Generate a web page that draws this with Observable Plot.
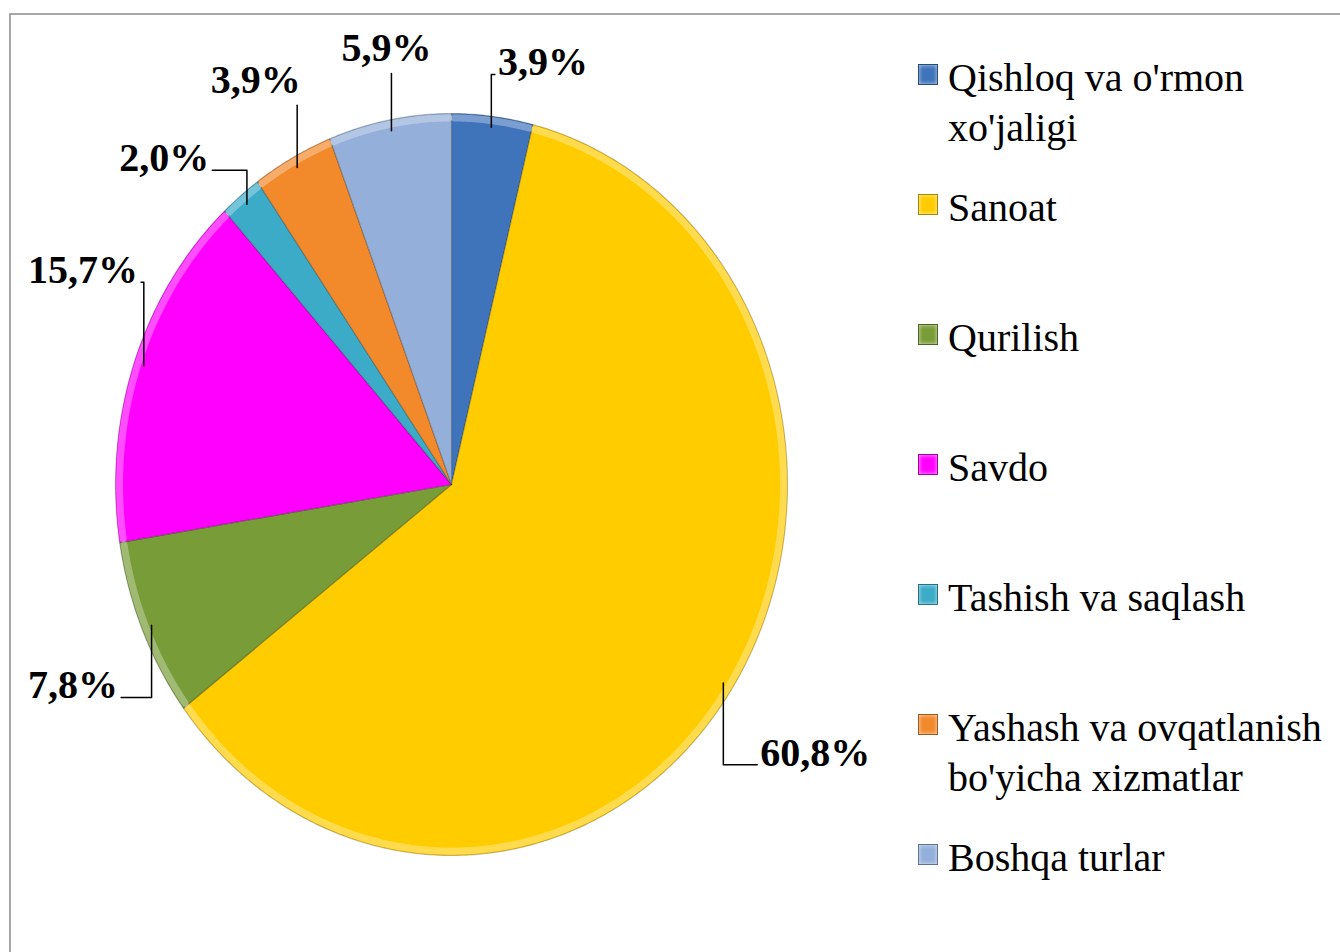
<!DOCTYPE html>
<html><head><meta charset="utf-8">
<script src="https://cdn.jsdelivr.net/npm/d3@7"></script>
<script src="https://cdn.jsdelivr.net/npm/@observablehq/plot@0.6"></script>
<style>
html,body{margin:0;padding:0;background:#fff;overflow:hidden;width:1340px;height:952px}
#frame{position:absolute;left:9px;top:13px;width:1400px;height:1000px;border:2px solid #a6a6a6;box-sizing:border-box}
#chart{position:absolute;left:0;top:0}
#legend{position:absolute;left:918px;top:53px;font-family:'Liberation Serif',serif;font-size:40px;line-height:50px;color:#000}
.item{position:absolute;left:0;display:flex;align-items:flex-start;white-space:pre;font-family:'Liberation Serif',serif}
.sw{width:20px;height:21px;margin-top:11px;margin-right:10px;box-sizing:border-box;border:1px solid rgba(0,0,0,0.35);box-shadow:inset 0 0 4px rgba(255,255,255,0.7)}
</style></head><body>
<div id="frame"></div><div id="chart"></div><div id="legend"></div>
<script>
// ---- data ----
const categories = ["Qishloq va o'rmon xo'jaligi", "Sanoat", "Qurilish", "Savdo", "Tashish va saqlash", "Yashash va ovqatlanish bo'yicha xizmatlar", "Boshqa turlar"];
const legendText = ["Qishloq va o'rmon\nxo'jaligi", "Sanoat", "Qurilish", "Savdo", "Tashish va saqlash", "Yashash va ovqatlanish\nbo'yicha xizmatlar", "Boshqa turlar"];
const shares = [3.9, 60.8, 7.8, 15.7, 2.0, 3.9, 5.9];
const shareLabels = ["3,9%", "60,8%", "7,8%", "15,7%", "2,0%", "3,9%", "5,9%"];
const colors = ["#3f74ba", "#ffcc00", "#789c38", "#ff00ff", "#3cabc8", "#f28a2c", "#93afda"];
// manual label nudges in px (Excel-style hand-placed labels)
const labelNudge = [[45,-6],[47,37],[-29,37],[-10,-76],[-49,0],[-16,-35],[5,-24]];

// ---- layout ----
const W = 1340, H = 952;
const xOpt = {domain: [-1, 1], range: [115, 787]};
const yOpt = {domain: [-1, 1], range: [855, 113]};
const xs = Plot.scale({x: xOpt});
const ys = Plot.scale({y: yOpt});

const total = d3.sum(shares);
let acc = 0;
const slices = shares.map((v, i) => {
  const a0 = acc / total * 2 * Math.PI; acc += v;
  const a1 = acc / total * 2 * Math.PI;
  return {i, a0, a1, mid: (a0 + a1) / 2};
});
const pts = [], rim = [];
slices.forEach(s => {
  pts.push({k: s.i, x: 0, y: 0, c: colors[s.i]});
  const n = Math.max(2, Math.ceil((s.a1 - s.a0) / (Math.PI / 360)));
  for (let j = 0; j <= n; j++) {
    const a = s.a0 + (s.a1 - s.a0) * j / n;
    pts.push({k: s.i, x: Math.sin(a), y: Math.cos(a), c: colors[s.i]});
    if (j > 0 && j < n) rim.push({k: s.i, x: 0.988 * Math.sin(a), y: 0.988 * Math.cos(a)});
  }
  pts.push({k: s.i, x: 0, y: 0, c: colors[s.i]});
});

const ctx = document.createElement("canvas").getContext("2d");
ctx.font = "bold 40px 'Liberation Serif'";
const labelData = [], leaderPts = [];
slices.forEach(s => {
  const px = xs.apply(1.13 * Math.sin(s.mid)) + labelNudge[s.i][0];
  const py = ys.apply(1.13 * Math.cos(s.mid)) + labelNudge[s.i][1];
  const ax = xs.apply(0.97 * Math.sin(s.mid)), ay = ys.apply(0.97 * Math.cos(s.mid));
  const w = ctx.measureText(shareLabels[s.i]).width;
  let ex, ey;
  if (ax < px - w / 2 - 2) { ex = px - w / 2 - 3; ey = py + 12; }
  else if (ax > px + w / 2 + 2) { ex = px + w / 2 + 3; ey = py + 12; }
  else { ex = ax; ey = ay < py ? py - 25 : py + 25; }
  labelData.push({x: xs.invert(px), y: ys.invert(py), t: shareLabels[s.i]});
  [[ax, ay], [ax, ey], [ex, ey]].forEach(([u, v]) => leaderPts.push({k: s.i, x: xs.invert(u), y: ys.invert(v)}));
});

const chart = Plot.plot({
  width: W, height: H, margin: 0,
  x: {...xOpt, axis: null},
  y: {...yOpt, axis: null},
  color: {type: "identity"},
  style: {background: "transparent"},
  marks: [
    Plot.line(pts, {x: "x", y: "y", z: "k", fill: "c", stroke: "rgba(0,0,0,0.22)", strokeWidth: 1.2}),
    Plot.line(rim, {x: "x", y: "y", z: "k", stroke: "#fff", strokeOpacity: 0.3, strokeWidth: 7}),
    Plot.line(leaderPts, {x: "x", y: "y", z: "k", stroke: "#000", strokeWidth: 1.5}),
    Plot.text(labelData, {x: "x", y: "y", text: "t", fontSize: 40, fontWeight: "bold", fontFamily: "'Liberation Serif', serif", fill: "#000", textAnchor: "middle", lineAnchor: "middle"})
  ]
});
document.getElementById("chart").appendChild(chart);

const legend = document.getElementById("legend");
legendText.forEach((t, i) => {
  const item = document.createElement("div");
  item.className = "item";
  item.style.top = (i * 130) + "px";
  const sw = document.createElement("div");
  sw.className = "sw"; sw.style.background = colors[i];
  const tx = document.createElement("div");
  tx.style.fontFamily = "'Liberation Serif', serif";
  tx.textContent = t;
  item.appendChild(sw); item.appendChild(tx);
  legend.appendChild(item);
});
</script>
</body></html>
